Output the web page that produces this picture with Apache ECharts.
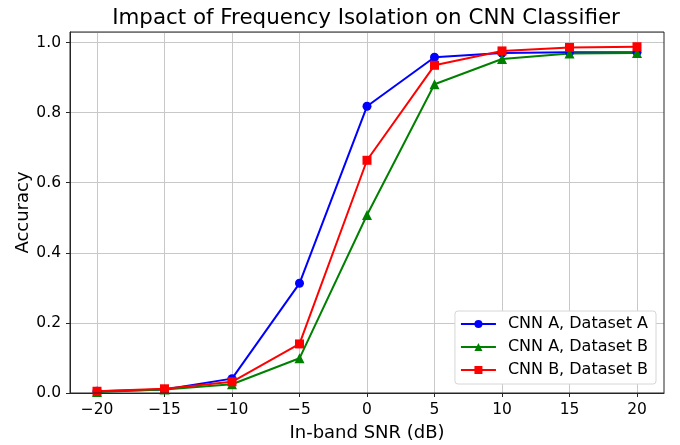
<!DOCTYPE html>
<html>
<head>
<meta charset="utf-8">
<script src="https://cdn.jsdelivr.net/npm/echarts@6/dist/echarts.min.js"></script>
<style>
html, body { margin: 0; padding: 0; background: #fff; }
#chart { width: 680px; height: 445px; }
</style>
</head>
<body>
<div id="chart"></div>
<script>
var snr = [-20, -15, -10, -5, 0, 5, 10, 15, 20];
var cnnA_dsA = [0.005, 0.010, 0.041, 0.313, 0.818, 0.958, 0.970, 0.972, 0.972];
var cnnA_dsB = [0.003, 0.010, 0.025, 0.099, 0.508, 0.881, 0.953, 0.969, 0.970];
var cnnB_dsB = [0.005, 0.012, 0.032, 0.140, 0.664, 0.935, 0.976, 0.986, 0.988];
var xTicks = [-20, -15, -10, -5, 0, 5, 10, 15, 20];

var fontName = 'DejaVu Sans';
var gridColor = '#c8c8c8';
var spineColor = '#262626';

function pairs(ys) {
    return snr.map(function (x, i) { return [x, ys[i]]; });
}

function makeSeries(name, ys, color, symbol, size) {
    return {
        name: name,
        type: 'line',
        data: pairs(ys),
        symbol: symbol,
        symbolSize: size,
        showSymbol: true,
        lineStyle: { color: color, width: 2 },
        itemStyle: { color: color },
        emphasis: { disabled: true },
        animation: false
    };
}

var option = {
    backgroundColor: '#fff',
    animation: false,
    textStyle: { fontFamily: fontName },
    title: {
        text: 'Impact of Frequency Isolation on CNN Classifier',
        left: 361,
        textAlign: 'center',
        top: 3,
        textStyle: { fontFamily: fontName, fontSize: 21.4, fontWeight: 'normal', color: '#000' }
    },
    grid: { left: 70, right: 16, top: 32, bottom: 52, containLabel: false, outerBoundsMode: 'none' },
    legend: {
        orient: 'vertical',
        right: 24,
        bottom: 61,
        itemWidth: 35,
        itemHeight: 10,
        itemGap: 7,
        padding: [5, 8, 6, 5],
        backgroundColor: '#fff',
        borderColor: '#d6d6d6',
        borderWidth: 1,
        borderRadius: 3,
        textStyle: { fontFamily: fontName, fontSize: 16, color: '#000', padding: [0, 0, 0, 7] },
        data: ['CNN A, Dataset A', 'CNN A, Dataset B', 'CNN B, Dataset B']
    },
    xAxis: {
        type: 'value',
        min: -22,
        max: 22,
        name: 'In-band SNR (dB)',
        nameLocation: 'middle',
        nameGap: 31,
        nameTextStyle: { fontFamily: fontName, fontSize: 18, color: '#000' },
        axisLine: { show: true, onZero: false, lineStyle: { color: spineColor, width: 1 } },
        axisTick: { show: true, inside: false, length: 4, customValues: xTicks, lineStyle: { color: spineColor } },
        axisLabel: {
            customValues: xTicks,
            fontFamily: fontName, fontSize: 15.5, color: '#000', margin: 9,
            formatter: function (v) { return v < 0 ? '\u2212' + (-v) : String(v); }
        },
        splitLine: { show: true, lineStyle: { color: gridColor, width: 1 } }
    },
    yAxis: {
        type: 'value',
        min: 0,
        max: 1.03,
        interval: 0.2,
        name: 'Accuracy',
        nameLocation: 'middle',
        nameGap: 38,
        nameMoveOverlap: false,
        nameTextStyle: { fontFamily: fontName, fontSize: 18, color: '#000' },
        axisLine: { show: true, onZero: false, lineStyle: { color: spineColor, width: 1 } },
        axisTick: { show: true, inside: false, length: 4, lineStyle: { color: spineColor } },
        axisLabel: {
            fontFamily: fontName, fontSize: 15.5, color: '#000', margin: 9,
            showMaxLabel: false,
            formatter: function (v) { return v.toFixed(1); }
        },
        splitLine: { show: true, lineStyle: { color: gridColor, width: 1 } }
    },
    series: [
        makeSeries('CNN A, Dataset A', cnnA_dsA, '#0000ff', 'circle', 9),
        makeSeries('CNN A, Dataset B', cnnA_dsB, '#008000', 'triangle', 10),
        makeSeries('CNN B, Dataset B', cnnB_dsB, '#ff0000', 'rect', 9)
    ]
};

var chart = echarts.init(document.getElementById('chart'), null, { renderer: 'canvas' });
chart.setOption(option);

// frame on top and right like matplotlib axes
chart.setOption({
    graphic: [{
        type: 'rect',
        shape: { x: 70, y: 32, width: 594, height: 361 },
        style: { fill: null, stroke: spineColor, lineWidth: 1 },
        silent: true,
        z: 100
    }]
});
</script>
</body>
</html>
